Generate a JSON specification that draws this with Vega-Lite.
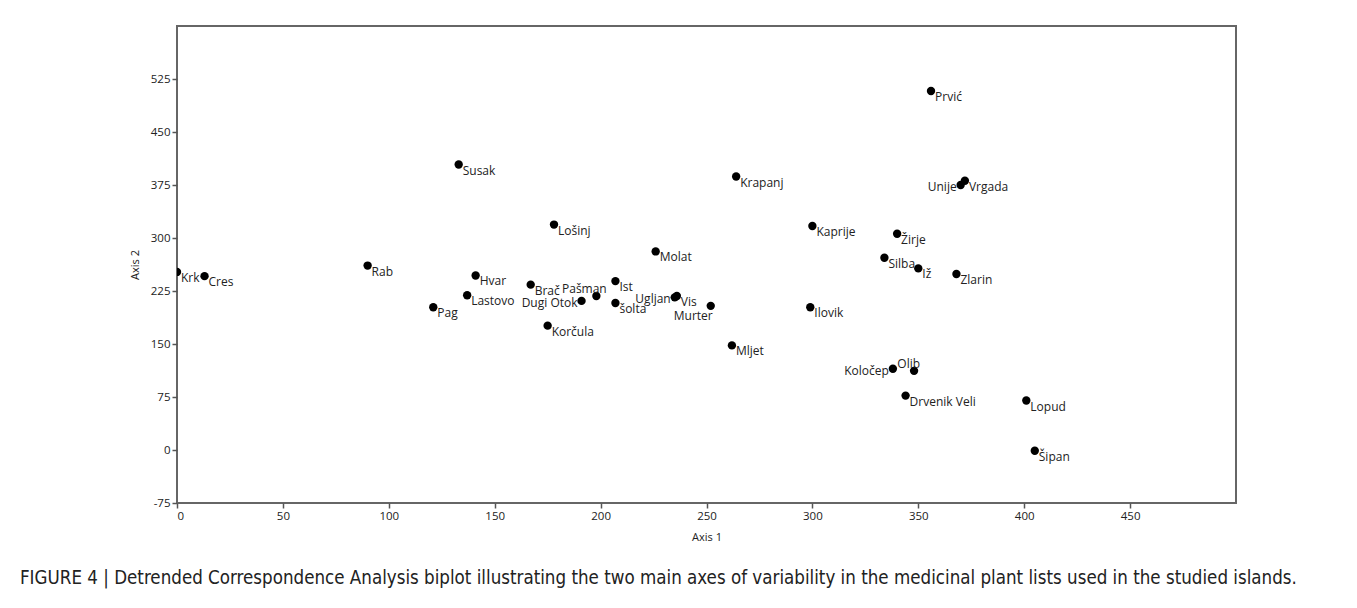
{
  "$schema": "https://vega.github.io/schema/vega-lite/v6.json",
  "autosize": {"type": "none"},
  "width": 1059,
  "height": 477,
  "padding": {"left": 177, "top": 26, "right": 121, "bottom": 105},
  "background": "white",
  "title": {
    "text": "FIGURE 4 | Detrended Correspondence Analysis biplot illustrating the two main axes of variability in the medicinal plant lists used in the studied islands.",
    "orient": "bottom",
    "anchor": "start",
    "frame": "group",
    "dx": -157,
    "offset": 26,
    "font": "DejaVu Sans Condensed",
    "fontSize": 18.6,
    "fontWeight": "normal",
    "color": "#222"
  },
  "data": {
    "values": [
      {"name": "Krk", "x": 0, "y": 252},
      {"name": "Cres", "x": 13, "y": 246},
      {"name": "Rab", "x": 90, "y": 261},
      {"name": "Pag", "x": 121, "y": 202},
      {"name": "Lastovo", "x": 137, "y": 219},
      {"name": "Hvar", "x": 141, "y": 247},
      {"name": "Brač", "x": 167, "y": 234},
      {"name": "Susak", "x": 133, "y": 404},
      {"name": "Lošinj", "x": 178, "y": 319},
      {"name": "Korčula", "x": 175, "y": 176},
      {"name": "Dugi Otok", "x": 191, "y": 211},
      {"name": "Pašman", "x": 198, "y": 218},
      {"name": "Ist", "x": 207, "y": 239},
      {"name": "šolta", "x": 207, "y": 208},
      {"name": "Molat", "x": 226, "y": 281},
      {"name": "Ugljan", "x": 235, "y": 216},
      {"name": "Vis", "x": 236, "y": 218},
      {"name": "Murter", "x": 252, "y": 204},
      {"name": "Mljet", "x": 262, "y": 148},
      {"name": "Krapanj", "x": 264, "y": 387},
      {"name": "Kaprije", "x": 300, "y": 317},
      {"name": "Prvić", "x": 356, "y": 508},
      {"name": "Unije", "x": 370, "y": 375},
      {"name": "Vrgada", "x": 372, "y": 381},
      {"name": "Žirje", "x": 340, "y": 306},
      {"name": "Silba", "x": 334, "y": 272},
      {"name": "Iž", "x": 350, "y": 257},
      {"name": "Zlarin", "x": 368, "y": 249},
      {"name": "Ilovik", "x": 299, "y": 202},
      {"name": "Koločep", "x": 338, "y": 115},
      {"name": "Olib", "x": 348, "y": 112},
      {"name": "Drvenik Veli", "x": 344, "y": 77},
      {"name": "Lopud", "x": 401, "y": 70},
      {"name": "Šipan", "x": 405, "y": -1}
    ]
  },
  "encoding": {
    "x": {
      "field": "x", "type": "quantitative",
      "scale": {"domain": [0, 500], "nice": false, "zero": false},
      "axis": {"title": "Axis 1", "values": [0, 50, 100, 150, 200, 250, 300, 350, 400, 450], "titlePadding": 10}
    },
    "y": {
      "field": "y", "type": "quantitative",
      "scale": {"domain": [-75, 600], "nice": false, "zero": false},
      "axis": {"title": "Axis 2", "values": [-75, 0, 75, 150, 225, 300, 375, 450, 525], "titlePadding": 10, "labelExpr": "replace(datum.label, '\u2212', '-')"}
    }
  },
  "layer": [
    {
      "mark": {"type": "point", "filled": true, "color": "black", "opacity": 1, "size": 70, "clip": true}
    },
    {
      "transform": [{"filter": {"not": {"field": "name", "oneOf": ["Unije", "Dugi Otok", "Ugljan", "Koločep", "Murter", "Pašman", "Olib"]}}}],
      "mark": {"type": "text", "align": "left", "baseline": "middle", "dx": 4, "dy": 6, "font": "Open Sans", "fontSize": 12, "color": "#222"},
      "encoding": {"text": {"field": "name"}}
    },
    {
      "transform": [{"filter": {"field": "name", "oneOf": ["Unije", "Dugi Otok", "Ugljan", "Koločep"]}}],
      "mark": {"type": "text", "align": "right", "baseline": "middle", "dx": -4, "dy": 2, "font": "Open Sans", "fontSize": 12, "color": "#222"},
      "encoding": {"text": {"field": "name"}}
    },
    {
      "transform": [{"filter": {"field": "name", "oneOf": ["Murter"]}}],
      "mark": {"type": "text", "align": "right", "baseline": "middle", "dx": 2, "dy": 10, "font": "Open Sans", "fontSize": 12, "color": "#222"},
      "encoding": {"text": {"field": "name"}}
    },
    {
      "transform": [{"filter": {"field": "name", "oneOf": ["Pašman"]}}],
      "mark": {"type": "text", "align": "center", "baseline": "middle", "dx": -12, "dy": -7, "font": "Open Sans", "fontSize": 12, "color": "#222"},
      "encoding": {"text": {"field": "name"}}
    },
    {
      "transform": [{"filter": {"field": "name", "oneOf": ["Olib"]}}],
      "mark": {"type": "text", "align": "right", "baseline": "middle", "dx": 6, "dy": -7, "font": "Open Sans", "fontSize": 12, "color": "#222"},
      "encoding": {"text": {"field": "name"}}
    }
  ],
  "config": {
    "view": {"stroke": "#666", "strokeWidth": 2},
    "axis": {
      "grid": false,
      "domain": false,
      "tickColor": "#555",
      "tickSize": 5,
      "tickWidth": 1.5,
      "labelFont": "Open Sans",
      "labelFontSize": 11.5,
      "labelColor": "#222",
      "labelPadding": 2,
      "titleFont": "Open Sans",
      "titleFontSize": 11,
      "titleFontWeight": "normal",
      "titleColor": "#222"
    }
  }
}
